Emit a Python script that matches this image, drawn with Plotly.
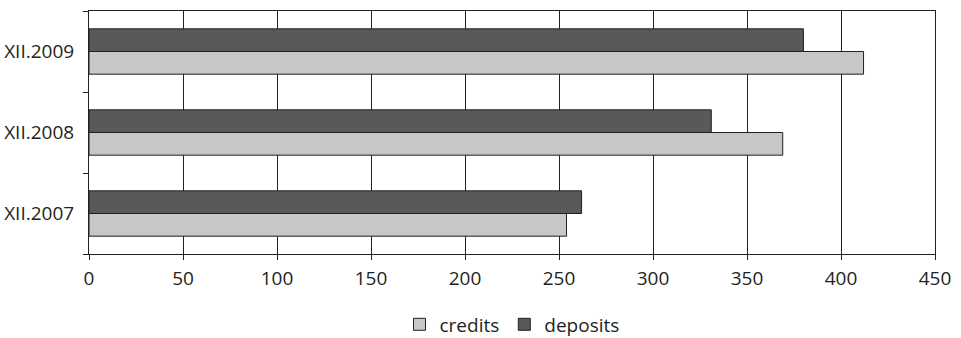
import plotly.graph_objects as go

categories = ["XII.2007", "XII.2008", "XII.2009"]
credits = [254, 369, 412]
deposits = [262, 331, 380]
x_ticks = [0, 50, 100, 150, 200, 250, 300, 350, 400, 450]

LINE = "#231f20"
FONT = dict(family="Open Sans", size=19, color="#231f20")

fig = go.Figure()
fig.add_trace(go.Bar(
    y=categories, x=credits, orientation="h", name="credits",
    marker=dict(color="#c6c7c9", line=dict(color=LINE, width=1)),
))
fig.add_trace(go.Bar(
    y=categories, x=deposits, orientation="h", name="deposits",
    marker=dict(color="#58595b", line=dict(color=LINE, width=1)),
))

fig.update_layout(
    width=961, height=338,
    margin=dict(l=89, r=26, t=11, b=84, autoexpand=False),
    paper_bgcolor="white", plot_bgcolor="white",
    font=FONT,
    barmode="group", bargap=0.44, bargroupgap=0,
    showlegend=True,
    legend=dict(orientation="h", x=0.5, xanchor="center", y=-0.29, yanchor="middle",
                font=FONT, traceorder="normal", itemwidth=30),
    xaxis=dict(range=[0, 450], tickvals=x_ticks, ticktext=[str(v) for v in x_ticks],
               showgrid=True, gridcolor=LINE, gridwidth=1,
               showline=True, linecolor=LINE, linewidth=1, mirror=True,
               ticks="outside", ticklen=5, tickcolor=LINE, zeroline=False,
               ticklabelstandoff=2, fixedrange=True, automargin=False),
    yaxis=dict(categoryorder="array", categoryarray=categories,
               showline=True, linecolor=LINE, linewidth=1, mirror=True,
               ticks="outside", ticklen=5, tickcolor=LINE, tickson="boundaries",
               showgrid=False, ticklabelstandoff=10, fixedrange=True, automargin=False),
)

fig.write_html("out.html")
